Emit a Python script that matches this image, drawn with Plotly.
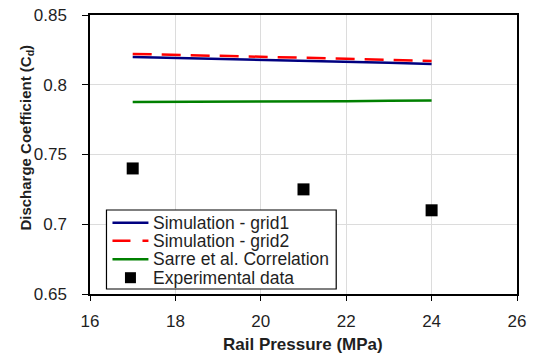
import plotly.graph_objects as go

# ---- data ----
pressure_sim = [17, 18, 19, 20, 21, 22, 23, 24]
grid1 = [0.8199, 0.8192, 0.8187, 0.8181, 0.8176, 0.8168, 0.8158, 0.8149]
grid2 = [0.8221, 0.8215, 0.8208, 0.8200, 0.8194, 0.8187, 0.8179, 0.8171]
sarre = [0.7877, 0.7877, 0.7880, 0.7882, 0.7882, 0.7882, 0.7885, 0.7887]
pressure_exp = [17, 21, 24]
experimental = [0.740, 0.725, 0.710]
series_names = ["Simulation - grid1", "Simulation - grid2",
                "Sarre et al. Correlation", "Experimental data"]
x_ticks = [16, 18, 20, 22, 24, 26]
y_ticks = [0.65, 0.7, 0.75, 0.8, 0.85]

# ---- layout geometry (pixels) ----
W, H = 534, 354
L, R, T, B = 89.5, 17, 15, 60
PW, PH = W - L - R, H - T - B


def px(xp):
    return (xp - L) / PW


def py(yp):
    return (H - B - yp) / PH


BLUE, RED, GREEN = "#000080", "#ff0000", "#008000"
TXT = "#1f1f1f"
FONT = "Liberation Sans, Arial, sans-serif"

fig = go.Figure()
fig.add_trace(go.Scatter(x=pressure_sim, y=grid1, mode="lines", name=series_names[0],
                         line=dict(color=BLUE, width=2.5), showlegend=False))
fig.add_trace(go.Scatter(x=pressure_sim, y=grid2, mode="lines", name=series_names[1],
                         line=dict(color=RED, width=2.5, dash="19px,10px"), showlegend=False))
fig.add_trace(go.Scatter(x=pressure_sim, y=sarre, mode="lines", name=series_names[2],
                         line=dict(color=GREEN, width=2.5), showlegend=False))
fig.add_trace(go.Scatter(x=pressure_exp, y=experimental, mode="markers", name=series_names[3],
                         marker=dict(color="black", symbol="square", size=12, line=dict(width=0)),
                         showlegend=False))

# ---- hand-drawn legend box (matches reference spacing) ----
shapes = [dict(type="rect", xref="paper", yref="paper",
               x0=px(106), x1=px(336), y0=py(289), y1=py(210),
               line=dict(color="black", width=1.2), fillcolor="white", layer="above")]
rows = [222.7, 240.8, 259.3, 277.7]
styles = [dict(color=BLUE, width=2.5), dict(color=RED, width=2.5, dash="18px,12px"),
          dict(color=GREEN, width=2.5)]
for yrow, st in zip(rows[:3], styles):
    shapes.append(dict(type="line", xref="paper", yref="paper",
                       x0=px(112), x1=px(148), y0=py(yrow), y1=py(yrow),
                       line=st, layer="above"))
shapes.append(dict(type="rect", xref="paper", yref="paper",
                   x0=px(124.5), x1=px(135.5), y0=py(rows[3] + 5.5), y1=py(rows[3] - 5.5),
                   line=dict(width=0), fillcolor="black", layer="above"))

annotations = []
for yrow, name in zip(rows, series_names):
    annotations.append(dict(text=name, xref="paper", yref="paper", x=px(151), y=py(yrow),
                            xanchor="left", yanchor="middle", showarrow=False,
                            font=dict(size=17.5, color=TXT, family=FONT)))
annotations.append(dict(text="<b>Discharge Coefficient (C<sub>d</sub>)</b>",
                        xref="paper", yref="paper", x=px(25), y=py(138),
                        xanchor="center", yanchor="middle", textangle=-90, showarrow=False,
                        font=dict(size=15, color=TXT, family=FONT)))
annotations.append(dict(text="<b>Rail Pressure (MPa)</b>",
                        xref="paper", yref="paper", x=px(303), y=py(344),
                        xanchor="center", yanchor="middle", showarrow=False,
                        font=dict(size=17, color=TXT, family=FONT)))

fig.update_layout(
    width=W, height=H,
    margin=dict(l=L, r=R, t=T, b=B, autoexpand=False),
    paper_bgcolor="white", plot_bgcolor="white",
    font=dict(family=FONT, color=TXT),
    showlegend=False,
    shapes=shapes, annotations=annotations,
)
fig.update_xaxes(range=[16, 26], tickvals=x_ticks, ticktext=[str(v) for v in x_ticks],
                 showgrid=True, gridcolor="#dcdcdc", gridwidth=1,
                 showline=True, linecolor="black", linewidth=1.5, mirror=True,
                 ticks="outside", ticklen=5, tickcolor="black", tickwidth=1.2,
                 tickfont=dict(size=17, color=TXT), ticklabelstandoff=6,
                 zeroline=False)
fig.update_yaxes(range=[0.65, 0.85], tickvals=y_ticks,
                 ticktext=[("%g" % v) for v in y_ticks],
                 showgrid=True, gridcolor="#dcdcdc", gridwidth=1,
                 showline=True, linecolor="black", linewidth=1.5, mirror=True,
                 ticks="outside", ticklen=6, tickcolor="black", tickwidth=1.2,
                 tickfont=dict(size=17, color=TXT), ticklabelstandoff=12,
                 zeroline=False)

fig.write_html("out.html", config={"displayModeBar": False},
               post_script="document.body.style.margin='0';")
